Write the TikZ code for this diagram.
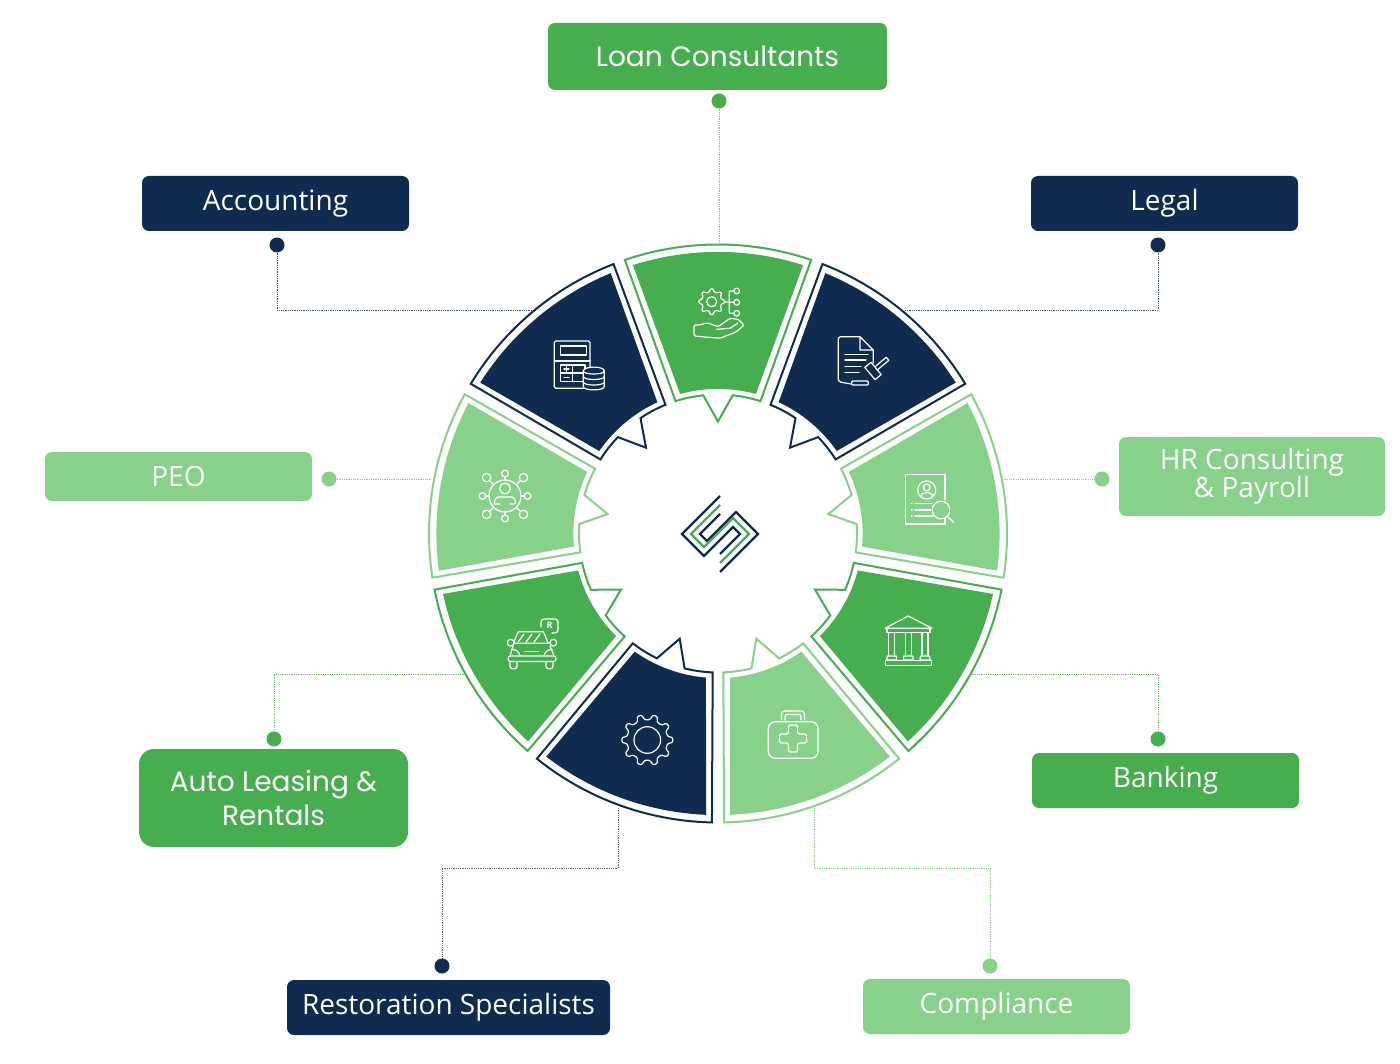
\documentclass[tikz,border=0pt]{standalone}
\usepackage{fontspec}
\setmainfont{Open Sans}
\newfontfamily\widefont{Poppins}
\definecolor{brandgreen}{HTML}{47AE4F}
\definecolor{brandlight}{HTML}{88D18B}
\definecolor{brandnavy}{HTML}{0F2C50}
\tikzset{
  label box/.style={rounded corners=7, minimum height=55, minimum width=267, inner sep=0, text=white, font=\fontsize{28}{28}\selectfont, align=center},
  wide label/.style={font=\widefont\fontsize{28}{34}\selectfont},
  dot/.style={circle, inner sep=0, minimum size=15},
  link/.style={line width=0.8, densely dotted},
  glyph/.style={draw=white, line width=1.2, line join=round, line cap=round},
  rim/.style={line width=2, fill=white, line join=miter},
  mark line/.style={line width=2.4, line join=miter}
}
% One wheel sector: thin outline with a pointed inner notch, and a solid core
\newcommand{\wheelsector}[2]{%
  \begin{scope}[shift={(718,533.5)}]
    \draw[rim, draw=#2] ({#1-18.8}:289)
      \foreach \o in {-17.5,-16,...,17.5} { -- ({#1+\o}:289) }
      -- ({#1+18.8}:289) -- ({#1+17.8}:139)
      \foreach \o in {16,14,...,8} { -- ({#1+\o}:139) }
      -- ({#1+6.1}:139) -- (#1:112) -- ({#1-6.1}:139)
      \foreach \o in {8,10,...,16} { -- ({#1-\o}:139) }
      -- ({#1-17.8}:139) -- cycle;
    \fill[#2] ({#1-17.6}:281.6)
      \foreach \o in {-16,-14.5,...,16} { -- ({#1+\o}:281.6) }
      -- ({#1+17.6}:281.6) -- ({#1+15.2}:144.6)
      \foreach \o in {14,12,...,-14} { -- ({#1+\o}:144.6) }
      -- ({#1-15.2}:144.6) -- cycle;
  \end{scope}}
% Toothed wheel outline for the icons
\newcommand{\toothed}[5]{%
  \begin{scope}[shift={(#1,#2)}]
    \draw[glyph, rounded corners=1] ({-0.3*360/#5}:#4)
      \foreach \i in {1,...,#5} {
        -- ({(\i-1)*360/#5-0.14*360/#5}:#3)
        -- ({(\i-1)*360/#5+0.14*360/#5}:#3)
        -- ({(\i-1)*360/#5+0.3*360/#5}:#4)
        -- ({\i*360/#5-0.3*360/#5}:#4)
      } -- cycle;
  \end{scope}}
\begin{document}
\begin{tikzpicture}[x=1pt,y=-1pt]
\useasboundingbox (0,0) rectangle (1400,1064);
\fill[white] (0,0) rectangle (1400,1064);

% Labels
\node[label box, wide label, fill=brandgreen, minimum width=339, minimum height=67] (loan) at (717.5,56.5) {Loan Consultants};
\node[label box, fill=brandnavy] (accounting) at (275.5,203.5) {Accounting};
\node[label box, fill=brandnavy] (legal) at (1164.5,203.5) {Legal};
\node[label box, fill=brandlight, minimum height=49] (peo) at (178.5,476.5) {PEO};
\node[label box, fill=brandlight, minimum width=266, minimum height=79] (hr) at (1252,476.5) {HR Consulting\\\& Payroll};
\node[label box, wide label, fill=brandgreen, rounded corners=15, minimum width=269, minimum height=98] (auto) at (273.5,798) {Auto Leasing \&\\Rentals};
\node[label box, fill=brandgreen] (banking) at (1165.5,780.5) {Banking};
\node[label box, fill=brandnavy, minimum width=323] (restoration) at (448.5,1007.5) {Restoration Specialists};
\node[label box, fill=brandlight] (compliance) at (996.5,1006.5) {Compliance};

% Connector dots
\node[dot, fill=brandgreen] (dloan) at (719,101) {};
\node[dot, fill=brandnavy] (daccounting) at (277,245) {};
\node[dot, fill=brandnavy] (dlegal) at (1158,245) {};
\node[dot, fill=brandlight] (dpeo) at (329,479) {};
\node[dot, fill=brandlight] (dhr) at (1102,479) {};
\node[dot, fill=brandgreen] (dauto) at (274,739) {};
\node[dot, fill=brandgreen] (dbanking) at (1158,739) {};
\node[dot, fill=brandnavy] (drestoration) at (442,966) {};
\node[dot, fill=brandlight] (dcompliance) at (990,966) {};

% Points where the connectors meet the wheel
\coordinate (wloan) at (719,246);
\coordinate (waccounting) at (535,310);
\coordinate (wlegal) at (905,310);
\coordinate (wpeo) at (432,479);
\coordinate (whr) at (1004,479);
\coordinate (wauto) at (465,674);
\coordinate (wbanking) at (970,674);
\coordinate (wrestoration) at (618,808);
\coordinate (wcompliance) at (814,808);

% Connectors
\draw[link, brandlight!80!gray] (dloan) -- (wloan);
\draw[link, brandnavy!80] (daccounting) |- (waccounting);
\draw[link, brandnavy!80] (dlegal) |- (wlegal);
\draw[link, brandlight] (dpeo) -- (wpeo);
\draw[link, brandlight] (dhr) -- (whr);
\draw[link, brandgreen!80] (dauto) |- (wauto);
\draw[link, brandgreen!80] (dbanking) |- (wbanking);
\draw[link, brandnavy!70] (drestoration) |- (618,868) -- (wrestoration);
\draw[link, brandlight] (dcompliance) |- (814,868) -- (wcompliance);

% Wheel, clockwise from the top
\wheelsector{-90}{brandgreen}
\wheelsector{-50}{brandnavy}
\wheelsector{-10}{brandlight}
\wheelsector{30}{brandgreen}
\wheelsector{70}{brandlight}
\wheelsector{110}{brandnavy}
\wheelsector{150}{brandgreen}
\wheelsector{190}{brandlight}
\wheelsector{230}{brandnavy}

% Centre mark
\begin{scope}[shift={(720,534)}]
  \draw[mark line, brandnavy] (0,-38) -- (-38,0) -- (-16,22) -- (13,-7) -- (20,0) -- (0,20);
  \draw[mark line, brandnavy] (0,38) -- (38,0) -- (16,-22) -- (-13,7) -- (-20,0) -- (0,-20);
  \draw[mark line, brandgreen] (0,-29) -- (-29,0) -- (-16,13) -- (13,-16) -- (29,0) -- (0,29);
\end{scope}

% Icon: gear, branches and open hand
\toothed{711.7}{301.7}{13}{10}{8}
\draw[glyph] (711.7,301.7) circle[radius=5];
\draw[glyph] (724,302) -- (733.7,302.3) (729.3,291) -- (729.3,313.3) (729.3,291) -- (733.9,291) (729.3,313.3) -- (733.7,313.3);
\draw[glyph] (736.7,291) circle[radius=2.8] (736.7,302.3) circle[radius=2.8] (736.7,313.3) circle[radius=2.8];
\draw[glyph, rounded corners=1.5] (694,325) -- (694,336) -- (720,338.3) -- (736.7,331.7) -- (744,325) -- (738.3,319.3) -- (730,318.3) -- (718.3,326.7) -- (706.7,322.7) -- (700,325) -- cycle;
\draw[glyph] (716.7,329.3) -- (730,328.3) -- (738,323);

% Icon: document and gavel
\draw[glyph, rounded corners=2.5] (860,336.7) -- (838.3,336.7) -- (838.3,381.7) -- (851,384);
\draw[glyph] (860,336.7) -- (873.3,350) -- (873.3,363) (860,336.7) -- (860,350) -- (873.3,350);
\draw[glyph] (845,354.3) -- (868,354.3) (845,360) -- (866,360) (845,366.7) -- (861,366.7) (845,372.7) -- (859,372.7);
\draw[glyph, rounded corners=1] (851.7,385) -- (851.7,381) -- (868.3,381) -- (868.3,385) -- cycle;
\begin{scope}[shift={(873,371)}, rotate=40]
  \draw[glyph] (-4,-8) rectangle (4,8);
  \draw[glyph] (4,-2) -- (19,-2) -- (19,2) -- (4,2);
\end{scope}

% Icon: calculator with data stack
\draw[glyph, rounded corners=1.5] (554.3,341) rectangle (590,388.3);
\draw[glyph] (560.7,346) rectangle (586.7,355);
\draw[glyph] (554.3,361) -- (590,361);
\draw[glyph] (560.7,365) rectangle (585,381.7) (572.8,365) -- (572.8,381.7) (560.7,373) -- (585,373);
\draw[glyph] (564,369) -- (569,369) (566.5,366.7) -- (566.5,371.3) (564,377.4) -- (569,377.4);
\draw[glyph, fill=brandnavy] (583.3,371) -- (583.3,386.5) .. controls (583.3,391) and (604.3,391) .. (604.3,386.5) -- (604.3,371) .. controls (604.3,365.8) and (583.3,365.8) .. (583.3,371) -- cycle;
\draw[glyph] (583.3,371) .. controls (583.3,375) and (604.3,375) .. (604.3,371)
  (583.3,376.5) .. controls (583.3,380.5) and (604.3,380.5) .. (604.3,376.5)
  (583.3,382) .. controls (583.3,386) and (604.3,386) .. (604.3,382);

% Icon: person at the hub of a network
\begin{scope}[shift={(505,496)}]
  \draw[glyph] (0,0) circle[radius=16];
  \foreach \a in {0,90,180,270} {
    \draw[glyph] (\a:16) -- (\a:19);
    \draw[glyph] (\a:22.5) circle[radius=3.4];
  }
  \foreach \a in {45,135,225,315} {
    \draw[glyph] (\a:16) -- (\a:22);
    \draw[glyph] (\a:26) circle[radius=4.2];
  }
  \draw[glyph] (0,-7.5) circle[radius=5.4];
  \draw[glyph, rounded corners=2] (-11,8) -- (-9,1) -- (9,1) -- (11,8) -- (5,8) (-11,8) -- (-5,8);
\end{scope}

% Icon: profile sheet and magnifier
\draw[glyph] (905.7,474.3) rectangle (945,524);
\fill[brandlight] (935,500) rectangle (950,518);
\draw[glyph] (945,474.3) -- (945,500) (945,520) -- (945,524);
\draw[glyph] (926.7,490) circle[radius=9];
\draw[glyph] (926.7,487.5) circle[radius=3.4];
\draw[glyph] (920.5,496) .. controls (921,491.5) and (932.4,491.5) .. (933,496);
\draw[glyph] (915,503.3) -- (932,503.3) (915,510) -- (931,510) (915,516) -- (933,516);
\draw[glyph] (911.5,503.3) -- (912,503.3) (911.5,510) -- (912,510) (911.5,516) -- (912,516);
\draw[glyph] (941,510) circle[radius=8.8];
\draw[glyph] (947.5,516.5) -- (954,522.7);

% Icon: bank building
\draw[glyph] (908.3,616) -- (932,628.3) -- (885,628.3) -- cycle;
\draw[glyph] (887,628.3) rectangle (930,632.5);
\foreach \c in {891.7,908.3,925} {
  \draw[glyph] ({\c-3},633) -- ({\c-3},656) ({\c+3},633) -- ({\c+3},656);
  \draw[glyph] ({\c-4.5},656) -- ({\c+4.5},656) -- ({\c+5},660) -- ({\c-5},660) -- cycle;
}
\draw[glyph] (885.5,660.5) rectangle (931.5,665.5);

% Icon: car with parking tag
\draw[glyph] (513.3,643.3) -- (518.3,631.7) -- (543.3,631.7) -- (548.3,643.3) -- cycle;
\draw[glyph] (518,642) -- (524,634) (526,642) -- (532,634) (534,642) -- (540,634);
\draw[glyph] (510.7,642.7) circle[radius=3.4] (553.3,642.7) circle[radius=3.4];
\draw[glyph] (513,646) -- (510,656) (550,646) -- (554,656);
\draw[glyph] (525,651.7) -- (538.3,651.7);
\draw[glyph] (512,649.5) .. controls (517,649.5) and (519,652) .. (520,656) (552,649.5) .. controls (547,649.5) and (545,652) .. (544,656);
\draw[glyph, rounded corners=2.5] (508,656) rectangle (556,661.5);
\draw[glyph, rounded corners=2.5] (510,661.5) -- (510,668.7) -- (517,668.7) -- (517,661.5);
\draw[glyph, rounded corners=2.5] (546,661.5) -- (546,668.7) -- (553,668.7) -- (553,661.5);
\draw[glyph, rounded corners=3] (541,627) -- (541,619) -- (558,619) -- (558,628);
\draw[glyph, rounded corners=3] (558,628) -- (558,633) -- (552,633);
\node[text=white, inner sep=0, font=\fontsize{9}{9}\selectfont\bfseries] (tag) at (549.5,625.5) {R};

% Icon: gear
\toothed{647.3}{740}{25.5}{20.5}{10}
\draw[glyph] (647.3,740) circle[radius=13.3];

% Icon: first-aid case
\draw[glyph, rounded corners=7] (768.3,721.7) rectangle (818,758.3);
\draw[glyph, rounded corners=3] (781.5,720) -- (781.5,711) -- (804.5,711) -- (804.5,720);
\draw[glyph, rounded corners=2] (785,720) -- (785,714.5) -- (801,714.5) -- (801,720);
\draw[glyph, rounded corners=1.5] (788.5,725) -- (797.5,725) -- (797.5,734) -- (806.5,734) -- (806.5,743) -- (797.5,743) -- (797.5,752) -- (788.5,752) -- (788.5,743) -- (779.5,743) -- (779.5,734) -- (788.5,734) -- cycle;
\end{tikzpicture}
\end{document}
